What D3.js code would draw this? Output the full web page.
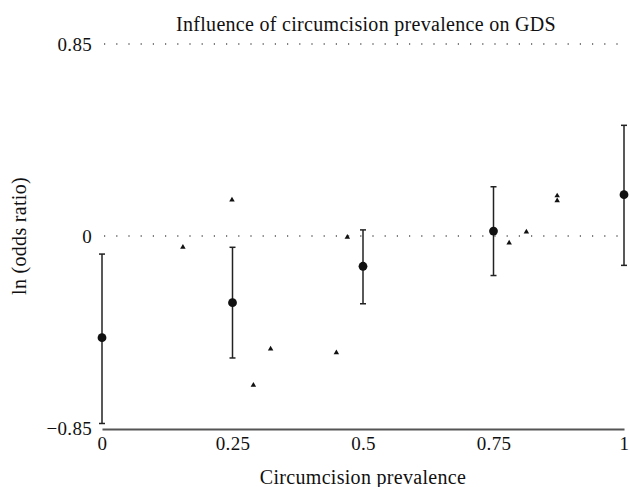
<!DOCTYPE html>
<html>
<head>
<meta charset="utf-8">
<script src="https://cdn.jsdelivr.net/npm/d3@7"></script>
<style>
  body { margin: 0; background: #fff; }
  svg text { font-family: 'Liberation Serif', 'DejaVu Serif', serif; fill: #111; }
</style>
</head>
<body>
<svg id="chart" width="630" height="487"></svg>
<script>
// summary points per prevalence level, with 95% CI
const prevalence = [0, 0.25, 0.5, 0.75, 1]
const estimate = [-0.45, -0.295, -0.134, 0.022, 0.183]
const ciLow = [-0.83, -0.54, -0.30, -0.175, -0.13]
const ciHigh = [-0.08, -0.05, 0.027, 0.218, 0.49]

// individual studies (triangles)
const studyX = [0.155, 0.249, 0.29, 0.323, 0.449, 0.47, 0.78, 0.813, 0.872, 0.872]
const studyY = [-0.049, 0.16, -0.66, -0.50, -0.516, -0.005, -0.031, 0.018, 0.178, 0.156]

const xTicks = [0, 0.25, 0.5, 0.75, 1]
const yTicks = [-0.85, 0, 0.85]

const svg = d3.select('#chart')
const margin = { left: 102, right: 6, top: 44, bottom: 59 }
const width = 630, height = 487

const x = d3.scaleLinear().domain([0, 1]).range([margin.left, width - margin.right])
const y = d3.scaleLinear().domain([-0.85, 0.85]).range([height - margin.bottom, margin.top])

const labelStyle = (sel, size) => sel
  .style('font-size', size + 'px')
  .style('letter-spacing', '0.3px')
  .style('font-family', "'Liberation Serif', serif")
  .style('fill', '#111')

// dotted reference lines
svg.append('g').selectAll('line')
  .data([0, 0.85]).enter()
  .append('line')
  .attr('x1', x(0) + 2).attr('x2', x(1))
  .attr('y1', (d) => y(d)).attr('y2', (d) => y(d))
  .style('stroke', '#555')
  .style('stroke-width', 1.3)
  .style('stroke-dasharray', '1.2 11')

// x axis
const gx = svg.append('g')
  .attr('transform', `translate(0, ${y(-0.85) + 1})`)
  .call(d3.axisBottom(x).tickValues(xTicks).tickSize(0).tickPadding(8).tickFormat(d3.format('')))
gx.select('.domain').style('stroke', '#555').style('stroke-width', 1.8)
labelStyle(gx.selectAll('text'), 19)

// y tick labels
const gy = svg.append('g')
  .attr('transform', `translate(${x(0)}, 0)`)
  .call(d3.axisLeft(y).tickValues(yTicks).tickSize(0).tickPadding(10)
    .tickFormat((d) => d === 0 ? '0' : d3.format('.2f')(d).replace('-', '\u2212')))
gy.select('.domain').remove()
labelStyle(gy.selectAll('text'), 19)

// error bars
const summary = prevalence.map((p, i) => ({ p, est: estimate[i], lo: ciLow[i], hi: ciHigh[i] }))
const gBars = svg.append('g').selectAll('g').data(summary).enter().append('g')
gBars.append('line')
  .attr('x1', (d) => x(d.p)).attr('x2', (d) => x(d.p))
  .attr('y1', (d) => y(d.lo)).attr('y2', (d) => y(d.hi))
  .style('stroke', '#222').style('stroke-width', 1.5)
gBars.selectAll('line.cap')
  .data((d) => [{ p: d.p, v: d.lo }, { p: d.p, v: d.hi }]).enter()
  .append('line').classed('cap', true)
  .attr('x1', (d) => x(d.p) - 3).attr('x2', (d) => x(d.p) + 3)
  .attr('y1', (d) => y(d.v)).attr('y2', (d) => y(d.v))
  .style('stroke', '#222').style('stroke-width', 1.5)
gBars.append('circle')
  .attr('cx', (d) => x(d.p)).attr('cy', (d) => y(d.est))
  .attr('r', 4.4)
  .style('fill', '#111')

// triangles
const tri = d3.symbol().type(d3.symbolTriangle).size(13)
svg.append('g').selectAll('path')
  .data(studyX.map((sx, i) => ({ sx, sy: studyY[i] }))).enter()
  .append('path')
  .attr('d', tri)
  .attr('transform', (d) => `translate(${x(d.sx)}, ${y(d.sy)})`)
  .style('fill', '#111')

// titles
labelStyle(svg.append('text'), 20)
  .attr('x', 366).attr('y', 31)
  .style('text-anchor', 'middle')
  .text('Influence of circumcision prevalence on GDS')

labelStyle(svg.append('text'), 20)
  .attr('x', 363).attr('y', 484)
  .style('text-anchor', 'middle')
  .text('Circumcision prevalence')

labelStyle(svg.append('text'), 20)
  .attr('transform', `translate(26, ${y(0)}) rotate(-90)`)
  .style('text-anchor', 'middle')
  .text('ln (odds ratio)')
</script>
</body>
</html>
